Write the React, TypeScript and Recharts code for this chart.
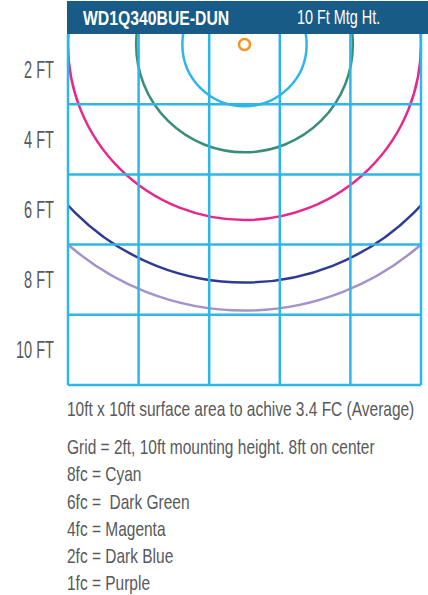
import { ComposedChart, XAxis, YAxis, ReferenceLine, ReferenceArea, Scatter } from 'recharts';

// isofootcandle contours, radius in feet from the fixture
const contourNames = ['8fc', '6fc', '4fc', '2fc', '1fc'];
const contourRadius = [1.76, 3.07, 5.0, 6.78, 7.58];
const contourColors = ['#2CB6E9', '#3A8D7A', '#E9268C', '#2F3B92', '#A493CB'];

const fixture = [{ x: 5, y: 0.3 }];
const gridFeet = [0, 2, 4, 6, 8, 10];
const tickFeet = [1, 3, 5, 7, 9];
const tickLabels = ['2 FT', '4 FT', '6 FT', '8 FT', '10 FT'];

const title = 'WD1Q340BUE-DUN';
const subtitle = '10 Ft Mtg Ht.';
const caption = '10ft x 10ft surface area to achive 3.4 FC (Average)';
const notes = [
  'Grid = 2ft, 10ft mounting height. 8ft on center',
  '8fc = Cyan',
  '6fc =  Dark Green',
  '4fc = Magenta',
  '2fc = Dark Blue',
  '1fc = Purple',
];

const FONT = '"Liberation Sans", Arial, sans-serif';
const GRID = '#2CB6E9';
const TEXT = '#58595B';
const CLIP_ID = 'plot-clip';

// condensed look: squeeze a regular face horizontally
const squeeze = (k: number) => ({
  display: 'inline-block',
  transform: `scaleX(${k})`,
  transformOrigin: 'left center',
});

const PlotClip = (props: any) => (
  <defs>
    <clipPath id={CLIP_ID}>
      <rect x={props.x} y={props.y} width={props.width} height={props.height} />
    </clipPath>
  </defs>
);

const Ring = (props: any) => {
  const { x, y, width, height, color } = props;
  return (
    <ellipse
      cx={x + width / 2}
      cy={y + height / 2}
      rx={Math.abs(width) / 2}
      ry={Math.abs(height) / 2}
      fill="none"
      stroke={color}
      strokeWidth={2.5}
      clipPath={`url(#${CLIP_ID})`}
    />
  );
};

const FixtureDot = (props: any) => (
  <circle cx={props.cx} cy={props.cy} r={5.5} fill="#fff" stroke="#F7941D" strokeWidth={2.5} />
);

const FtTick = (props: any) => {
  const { x, y, payload } = props;
  const label = tickLabels[tickFeet.indexOf(payload.value)];
  return (
    <text
      transform={`translate(${x},${y}) scale(0.62,1)`}
      textAnchor="end"
      dominantBaseline="central"
      fill={TEXT}
      fontSize={23.5}
      fontFamily={FONT}
    >
      {label}
    </text>
  );
};

export default function App() {
  const cx = fixture[0].x;
  const cy = fixture[0].y;
  return (
    <div style={{ position: 'absolute', left: 0, top: 0, width: 428, height: 595, background: '#fff', fontFamily: FONT }}>
      <ComposedChart width={428} height={395} margin={{ top: 34, right: 7, bottom: 10, left: 0 }}>
        <XAxis type="number" dataKey="x" domain={[0, 10]} allowDataOverflow hide />
        <YAxis
          type="number"
          dataKey="y"
          domain={[0, 10]}
          reversed
          allowDataOverflow
          ticks={tickFeet}
          width={68}
          axisLine={false}
          tickLine={false}
          tickMargin={8}
          tick={FtTick}
        />
        <ReferenceArea x1={0} x2={10} y1={0} y2={10} ifOverflow="visible" shape={PlotClip} />
        {gridFeet.map((g) => (
          <ReferenceLine key={'v' + g} x={g} stroke={GRID} strokeWidth={2.5} />
        ))}
        {gridFeet.slice(1).map((g) => (
          <ReferenceLine key={'h' + g} y={g} stroke={GRID} strokeWidth={2.5} />
        ))}
        {contourRadius.map((r, i) => (
          <ReferenceArea
            key={contourNames[i]}
            x1={cx - r}
            x2={cx + r}
            y1={cy - r}
            y2={cy + r}
            ifOverflow="visible"
            shape={(p: any) => <Ring {...p} color={contourColors[i]} />}
          />
        ))}
        <Scatter data={fixture} dataKey="y" shape={FixtureDot} isAnimationActive={false} />
      </ComposedChart>

      <div
        style={{
          position: 'absolute',
          left: 67,
          top: 1,
          width: 361,
          height: 33,
          background: '#175B86',
          color: '#fff',
          whiteSpace: 'nowrap',
        }}
      >
        <span style={{ position: 'absolute', left: 16, top: 0, lineHeight: '33px', fontSize: 21, fontWeight: 'bold', ...squeeze(0.75) }}>
          {title}
        </span>
        <span style={{ position: 'absolute', left: 230, top: 0, lineHeight: '33px', fontSize: 20, ...squeeze(0.72) }}>
          {subtitle}
        </span>
      </div>

      <div style={{ position: 'absolute', left: 67, top: 397, lineHeight: '24px', fontSize: 21, color: TEXT, whiteSpace: 'nowrap' }}>
        <span style={squeeze(0.737)}>{caption}</span>
      </div>
      <div style={{ position: 'absolute', left: 67, top: 433, lineHeight: '27.3px', fontSize: 21, color: TEXT, whiteSpace: 'pre' }}>
        {notes.map((n) => (
          <div key={n}>
            <span style={squeeze(0.737)}>{n}</span>
          </div>
        ))}
      </div>
    </div>
  );
}
